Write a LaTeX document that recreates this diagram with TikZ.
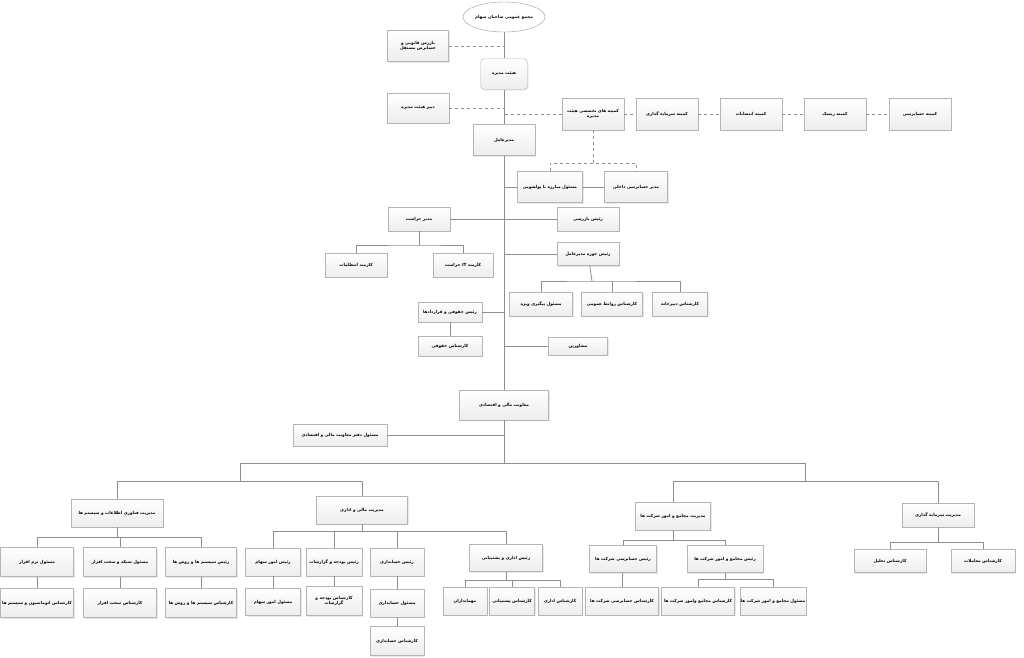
\documentclass[tikz,border=0pt]{standalone}
\usepackage{fontspec}
\newfontfamily\farsifont[Script=Arabic]{DejaVu Sans}
\TeXXeTstate=1
\usetikzlibrary{shapes.geometric,shadows}
\newcommand{\fa}[1]{\beginR #1\endR}
\definecolor{linegray}{HTML}{8E8E8E}
\definecolor{edgegray}{HTML}{B4B4B4}

\begin{document}
\begin{tikzpicture}[x=1pt, y=-1pt, font=\farsifont\bfseries\fontsize{4.2}{5.6}\selectfont, line join=round,
	box/.style={draw=edgegray, top color=white, bottom color=gray!14, drop shadow={shadow xshift=1pt, shadow yshift=-1pt, fill=gray!35}, inner sep=0.5pt, align=center},
	rbox/.style={box, rounded corners=4pt},
	oval/.style={ellipse, draw=gray!80, fill=white, inner sep=0pt},
	sz/.style 2 args={minimum width=#1, minimum height=#2},
	link/.style={draw=linegray, line width=0.8pt},
	dlink/.style={link, dashed}]
	\fill[white] (0,0) rectangle (1024,657);
	\useasboundingbox (0,0) rectangle (1024,657);
	% top of the chart
	\node[oval, minimum width=80, minimum height=30] (gm) at (504,17) {\fa{مجمع عمومی صاحبان سهام}};
	\node[box, sz={61}{31}] (audit) at (418,46) {\fa{بازرس قانونی و}\\\fa{حسابرس مستقل}};
	\node[rbox, sz={47}{31}] (board) at (504,74) {\fa{هیئت مدیره}};
	\node[box, sz={62}{30}] (secb) at (418,108) {\fa{دبیر هیئت مدیره}};
	\node[box, sz={62}{32}] (comm) at (593,114) {\fa{کمیته های تخصصی هیئت}\\\fa{مدیره}};
	\node[box, sz={62}{32}] (cinv) at (667,114) {\fa{کمیته سرمایه گذاری}};
	\node[box, sz={62}{32}] (cnom) at (751,114) {\fa{کمیته انتصابات}};
	\node[box, sz={62}{32}] (crisk) at (835,114) {\fa{کمیته ریسک}};
	\node[box, sz={62}{32}] (caud) at (920,114) {\fa{کمیته حسابرسی}};
	\node[box, sz={62}{31}] (ceo) at (504,140) {\fa{مدیرعامل}};
	% under the ceo
	\node[box, sz={65}{31}] (aml) at (550,187) {\fa{مسئول مبارزه با پولشویی}};
	\node[box, sz={63}{31}] (iaud) at (636,187) {\fa{مدیر حسابرسی داخلی}};
	\node[box, sz={62}{24}] (sec) at (419,219) {\fa{مدیر حراست}};
	\node[box, sz={62}{24}] (insp) at (588,219) {\fa{رئیس بازرسی}};
	\node[box, sz={62}{24}] (guard) at (356,265) {\fa{کارمند انتظامات}};
	\node[box, sz={60}{24}] (itsec) at (463,265) {\beginR کارمند \beginL IT\endL{} حراست\endR};
	\node[box, sz={62}{23}] (ceooff) at (588,254) {\fa{رئیس حوزه مدیرعامل}};
	\node[box, sz={63}{24}] (follow) at (541,304) {\fa{مسئول پیگیری ویژه}};
	\node[box, sz={61}{24}] (pr) at (612,304) {\fa{کارشناس روابط عمومی}};
	\node[box, sz={55}{24}] (office) at (680,304) {\fa{کارشناس دبیرخانه}};
	\node[box, sz={64}{20}] (legal) at (450,312) {\fa{رئیس حقوقی و قراردادها}};
	\node[box, sz={64}{20}] (legex) at (450,346) {\fa{کارشناس حقوقی}};
	\node[box, sz={59}{18}] (advis) at (578,346) {\fa{مشاورین}};
	\node[box, sz={89}{30}] (fvp) at (504,405) {\fa{معاونت مالی و اقتصادی}};
	\node[box, sz={94}{22}] (fvpoff) at (340,435) {\fa{مسئول دفتر معاونت مالی و اقتصادی}};
	% departments
	\node[box, sz={92}{28}] (itm) at (117,513) {\fa{مدیریت فناوری اطلاعات و سیستم ها}};
	\node[box, sz={91}{28}] (fin) at (362,510) {\fa{مدیریت مالی و اداری}};
	\node[box, sz={75}{28}] (agm) at (673,516) {\fa{مدیریت مجامع و امور شرکت ها}};
	\node[box, sz={72}{24}] (invm) at (938,515) {\fa{مدیریت سرمایه گذاری}};
	% it
	\node[box, sz={73}{29}] (soft) at (37,562) {\fa{مسئول نرم افزار}};
	\node[box, sz={73}{29}] (net) at (120,562) {\fa{مسئول شبکه و سخت افزار}};
	\node[box, sz={71}{29}] (sys) at (201,562) {\fa{رئیس سیستم ها و روش ها}};
	\node[box, sz={73}{29}] (autoex) at (37,603) {\fa{کارشناس اتوماسیون و سیستم ها}};
	\node[box, sz={73}{29}] (hwex) at (120,603) {\fa{کارشناس سخت افزار}};
	\node[box, sz={71}{29}] (sysex) at (201,603) {\fa{کارشناس سیستم ها و روش ها}};
	% finance
	\node[box, sz={55}{28}] (share) at (273,562) {\fa{رئیس امور سهام}};
	\node[box, sz={56}{28}] (budget) at (334,562) {\fa{رئیس بودجه و گزارشات}};
	\node[box, sz={54}{28}] (acc) at (397,562) {\fa{رئیس حسابداری}};
	\node[box, sz={55}{27}] (sharex) at (273,602) {\fa{مسئول امور سهام}};
	\node[box, sz={56}{29}] (budex) at (334,601) {\fa{کارشناس بودجه و}\\\fa{گزارشات}};
	\node[box, sz={54}{28}] (accr) at (397,603) {\fa{مسئول حسابداری}};
	\node[box, sz={54}{29}] (accex) at (397,641) {\fa{کارشناس حسابداری}};
	\node[box, sz={73}{27}] (adm) at (506,558) {\fa{رئیس اداری و پشتیبانی}};
	\node[box, sz={44}{28}] (host) at (465,601) {\fa{مهمانداران}};
	\node[box, sz={45}{28}] (supex) at (512,601) {\fa{کارشناس پشتیبانی}};
	\node[box, sz={44}{28}] (admex) at (560,601) {\fa{کارشناس اداری}};
	% meetings and companies
	\node[box, sz={67}{27}] (caud2) at (623,559) {\fa{رئیس حسابرسی شرکت ها}};
	\node[box, sz={76}{27}] (agmh) at (725,559) {\fa{رئیس مجامع و امور شرکت ها}};
	\node[box, sz={73}{28}] (cauex) at (622,601) {\fa{کارشناس حسابرسی شرکت ها}};
	\node[box, sz={73}{28}] (agmex) at (698,601) {\fa{کارشناس مجامع وامور شرکت ها}};
	\node[box, sz={66}{28}] (agmr) at (773,601) {\fa{مسئول مجامع و امور شرکت ها}};
	% investment
	\node[box, sz={72}{23}] (anal) at (890,561) {\fa{کارشناس تحلیل}};
	\node[box, sz={64}{23}] (trade) at (983,561) {\fa{کارشناس معاملات}};
	% junctions
	\coordinate (jcomm) at (593,163);
	\coordinate (jsec) at (419,245);
	\coordinate (jceo) at (592,281);
	\coordinate (jfv) at (504,463);
	\coordinate (jl) at (240,463);
	\coordinate (jr) at (805,463);
	\coordinate (jl2) at (240,481);
	\coordinate (jr2) at (805,481);
	\coordinate (jit) at (117,537);
	\coordinate (jfin) at (362,531);
	\coordinate (jadm) at (506,580);
	\coordinate (jagm) at (673,540);
	\coordinate (jagh) at (725,579);
	\coordinate (jinv) at (938,542);
	% main line
	\draw[link] (gm) -- (board);
	\draw[link] (board) -- (ceo);
	\draw[link] (ceo) -- (fvp);
	\draw[link] (fvp) -- (jfv);
	% dashed links of the board
	\draw[dlink] (audit.east) -- (audit.east -| board);
	\draw[dlink] (secb.east) -- (secb.east -| board);
	\draw[dlink] (comm.west) -- (comm.west -| board);
	\draw[dlink] (comm) -- (cinv);
	\draw[dlink] (cinv) -- (cnom);
	\draw[dlink] (cnom) -- (crisk);
	\draw[dlink] (crisk) -- (caud);
	\draw[dlink] (comm) -- (jcomm);
	\draw[dlink] (aml.north) |- (jcomm) -| (iaud.north);
	% staff of the ceo
	\draw[link] (aml.west) -- (aml.west -| ceo);
	\draw[link] (aml) -- (iaud);
	\draw[link] (sec) -- (insp);
	\draw[link] (sec) -- (jsec);
	\draw[link] (guard.north) |- (jsec) -| (itsec.north);
	\draw[link] (ceooff.west) -- (ceooff.west -| ceo);
	\draw[link] (ceooff) -- (jceo);
	\draw[link] (follow.north) |- (jceo) -| (office.north);
	\draw[link] (pr.north) -- (pr.north |- jceo);
	\draw[link] (legal.east) -- (legal.east -| ceo);
	\draw[link] (legal) -- (legex);
	\draw[link] (advis.west) -- (advis.west -| ceo);
	\draw[link] (fvpoff.east) -- (fvpoff.east -| fvp);
	% departments
	\draw[link] (jl) -- (jr);
	\draw[link] (jl) -- (jl2);
	\draw[link] (jr) -- (jr2);
	\draw[link] (itm.north) |- (jl2) -| (fin.north);
	\draw[link] (agm.north) |- (jr2) -| (invm.north);
	\draw[link] (itm) -- (jit);
	\draw[link] (soft.north) |- (jit) -| (sys.north);
	\draw[link] (net.north) -- (net.north |- jit);
	\draw[link] (soft) -- (autoex);
	\draw[link] (net) -- (hwex);
	\draw[link] (sys) -- (sysex);
	\draw[link] (fin) -- (jfin);
	\draw[link] (share.north) |- (jfin) -| (adm.north);
	\draw[link] (budget.north) -- (budget.north |- jfin);
	\draw[link] (acc.north) -- (acc.north |- jfin);
	\draw[link] (share) -- (sharex);
	\draw[link] (budget) -- (budex);
	\draw[link] (acc) -- (accr);
	\draw[link] (accr) -- (accex);
	\draw[link] (adm) -- (jadm);
	\draw[link] (host.north) |- (jadm) -| (admex.north);
	\draw[link] (supex.north) -- (supex.north |- jadm);
	\draw[link] (agm) -- (jagm);
	\draw[link] (caud2.north) |- (jagm) -| (agmh.north);
	\draw[link] (caud2) -- (cauex);
	\draw[link] (agmh) -- (jagh);
	\draw[link] (agmex.north) |- (jagh) -| (agmr.north);
	\draw[link] (invm) -- (jinv);
	\draw[link] (anal.north) |- (jinv) -| (trade.north);
\end{tikzpicture}
\end{document}
